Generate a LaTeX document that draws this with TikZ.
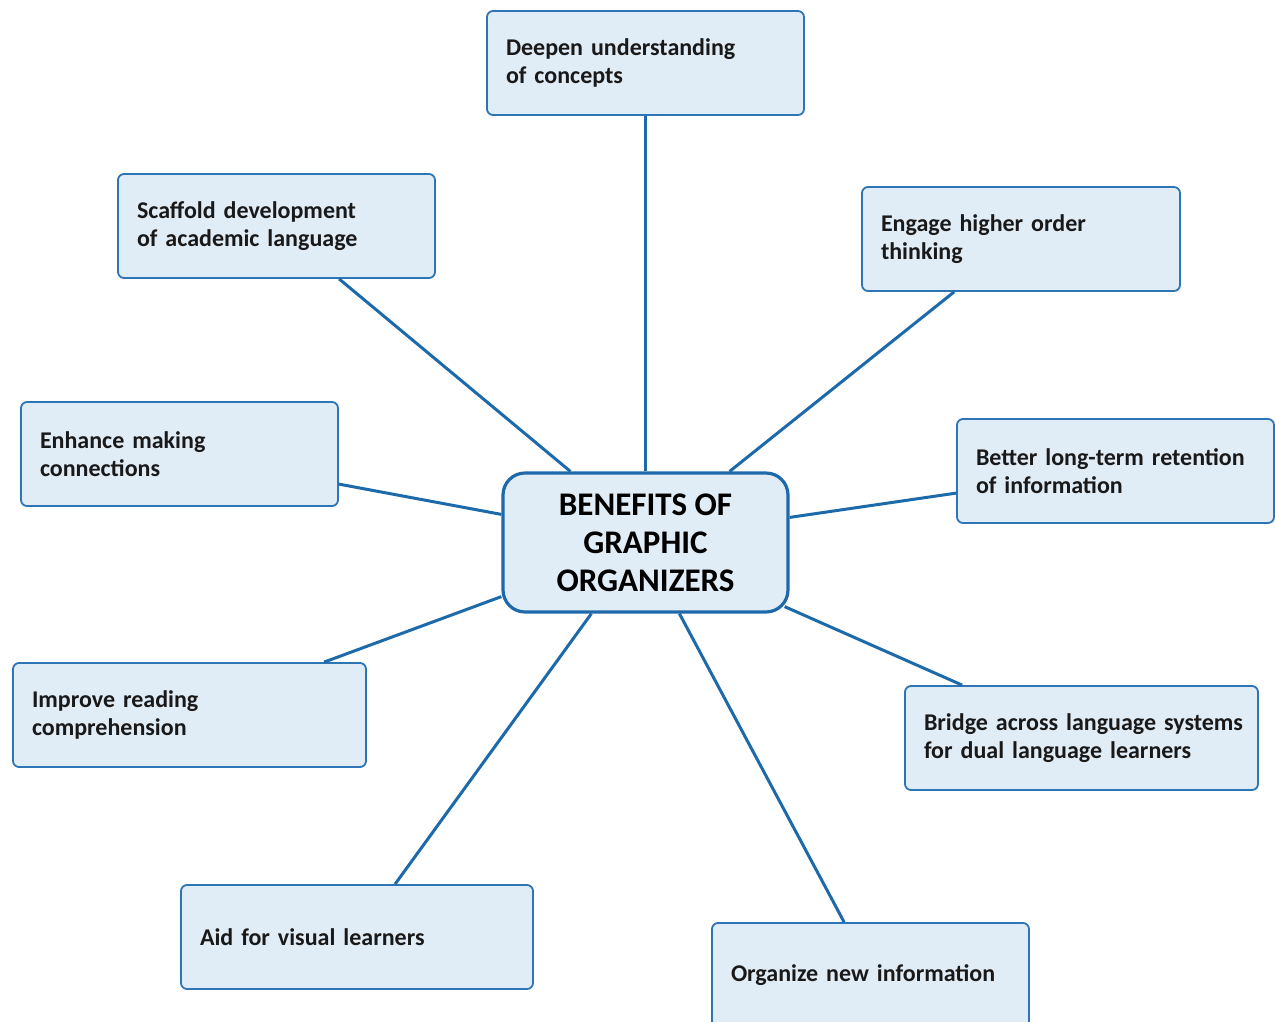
\documentclass[tikz,border=0pt]{standalone}
\usepackage{fontspec}
\setmainfont{Carlito}
\definecolor{boxfill}{HTML}{E0ECF6}
\definecolor{boxline}{HTML}{2E75B6}
\definecolor{linkcol}{HTML}{1D6AAA}
\definecolor{ctrline}{HTML}{1F68AA}
\tikzset{
  benefit/.style={draw=boxline, fill=boxfill, line width=1.8pt, rounded corners=6pt,
    minimum height=104pt, inner xsep=19pt, inner ysep=0pt, align=left,
    font=\fontsize{24}{28.5}\selectfont\bfseries, text=black!90},
  centre/.style={draw=ctrline, fill=boxfill, line width=3.2pt, rounded corners=22pt,
    minimum width=285pt, minimum height=139pt, align=center, inner sep=0pt,
    font=\fontsize{33}{38}\selectfont\bfseries},
  link/.style={draw=linkcol, line width=3pt}
}
\begin{document}
\begin{tikzpicture}[x=1pt,y=-1pt]
\useasboundingbox (0,0) rectangle (1275,1021);
\node[centre] (c) at (645.5,542.5) {BENEFITS OF\\GRAPHIC\\ORGANIZERS};
\node[benefit, text width=279pt] (dp) at (645.5,63) {Deepen understanding\\of concepts};
\node[benefit, text width=279pt] (sc) at (276.5,226) {Scaffold development\\of academic language};
\node[benefit, text width=280pt] (en) at (1021,239) {Engage higher order\\thinking};
\node[benefit, text width=279pt] (eh) at (179.5,454) {Enhance making\\connections};
\node[benefit, text width=279pt] (bt) at (1115.5,471) {Better long-term retention\\of information};
\node[benefit, text width=315pt] (im) at (189.5,715) {Improve reading\\comprehension};
\node[benefit, text width=315pt] (br) at (1081.5,738) {\mbox{Bridge across language systems}\\\mbox{for dual language learners}};
\node[benefit, text width=314pt] (ad) at (357,937) {Aid for visual learners};
\node[benefit, text width=279pt] (og) at (870.5,975) {Organize new information};
\draw[link] (dp.south) -- (c.north);
\draw[link] ([xshift=222pt]sc.south west) -- ([xshift=69pt]c.north west);
\draw[link] ([xshift=93pt]en.south west) -- ([xshift=-60pt]c.north east);
\draw[link] ([yshift=-83pt]eh.north east) -- ([yshift=-43pt]c.north west);
\draw[link] ([yshift=-75pt]bt.north west) -- ([yshift=-46pt]c.north east);
\draw[link] ([xshift=312pt]im.north west) -- ([yshift=17pt]c.south west);
\draw[link] ([xshift=58pt]br.north west) -- ([xshift=-5pt,yshift=7pt]c.south east);
\draw[link] ([xshift=215pt]ad.north west) -- ([xshift=90pt]c.south west);
\draw[link] ([xshift=133pt]og.north west) -- ([xshift=178pt]c.south west);
\end{tikzpicture}
\end{document}
